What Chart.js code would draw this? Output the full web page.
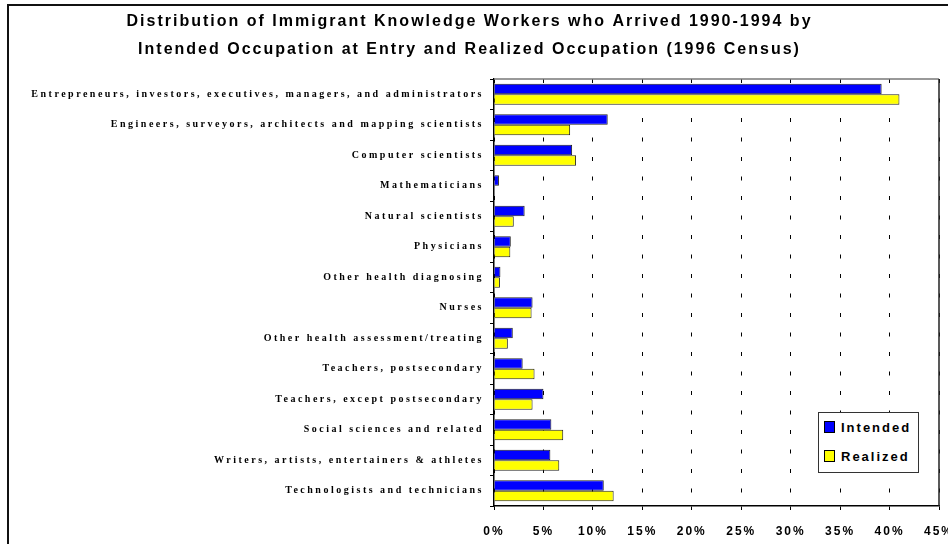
<!DOCTYPE html>
<html lang="en">
<head>
    <meta charset="UTF-8">
    <title>Immigrant Knowledge Workers</title>
    <script src="https://cdn.jsdelivr.net/npm/chart.js"></script>
    <style>
        body {
            margin: 0;
            width: 948px;
            height: 544px;
            overflow: hidden;
            background: white;
            position: relative;
            font-family: "Liberation Sans", Arial, sans-serif;
        }
        .frame {
            position: absolute;
            left: 7px;
            top: 4px;
            width: 1000px;
            height: 600px;
            border: 2px solid #111;
            pointer-events: none;
        }
        #legend {
            position: absolute;
            left: 818px;
            top: 412px;
            width: 99px;
            height: 59px;
            border: 1px solid #333;
            background: white;
        }
        .item {
            position: absolute;
            left: 5px;
            height: 16px;
            line-height: 16px;
            font-weight: bold;
            font-size: 13px;
            letter-spacing: 2px;
            color: #000;
        }
        .swatch {
            display: inline-block;
            width: 9px;
            height: 10px;
            border: 1px solid #000;
            margin-right: 6px;
            vertical-align: -1px;
        }
    </style>
</head>
<body>
    <canvas id="chart" width="948" height="544"></canvas>
    <div id="legend"></div>
    <div class="frame"></div>

    <script>
        const titleLines = [
            'Distribution of Immigrant Knowledge Workers who Arrived 1990-1994 by',
            'Intended Occupation at Entry and Realized Occupation (1996 Census)'
        ];

        const occupations = [
            'Entrepreneurs, investors, executives, managers, and administrators',
            'Engineers, surveyors, architects and mapping scientists',
            'Computer scientists',
            'Mathematicians',
            'Natural scientists',
            'Physicians',
            'Other health diagnosing',
            'Nurses',
            'Other health assessment/treating',
            'Teachers, postsecondary',
            'Teachers, except postsecondary',
            'Social sciences and related',
            'Writers, artists, entertainers & athletes',
            'Technologists and technicians'
        ];

        // percent of arrivals
        const intended = [39.2, 11.5, 7.9, 0.5, 3.1, 1.7, 0.65, 3.9, 1.9, 2.9, 5.0, 5.8, 5.7, 11.1];
        const realized = [41.0, 7.7, 8.3, 0, 2.0, 1.65, 0.6, 3.8, 1.4, 4.1, 3.9, 7.0, 6.6, 12.1];

        const seriesNames = ['Intended', 'Realized'];
        const seriesColors = ['#0000ff', '#ffff00'];

        const xMin = 0;
        const xMax = 45;
        const xStep = 5;

        // old-style spaced lettering; y labels are drawn after the bars (ticks z: 1)
        const spacingPlugin = {
            id: 'spacing',
            beforeLayout(chart) { chart.ctx.letterSpacing = '2px'; },
            beforeDraw(chart) { chart.ctx.letterSpacing = '2px'; },
            afterDatasetsDraw(chart) { chart.ctx.letterSpacing = '2.5px'; }
        };

        // top and right edges of the plot area
        const plotFrame = {
            id: 'plotFrame',
            beforeDatasetsDraw(chart) {
                const {ctx, chartArea: a} = chart;
                ctx.save();
                ctx.lineWidth = 1.5;
                ctx.strokeStyle = '#777';
                ctx.beginPath();
                ctx.moveTo(a.left, a.top);
                ctx.lineTo(a.right, a.top);
                ctx.stroke();
                ctx.strokeStyle = '#222';
                ctx.beginPath();
                ctx.moveTo(a.right, a.top);
                ctx.lineTo(a.right, a.bottom);
                ctx.stroke();
                ctx.restore();
            }
        };

        const ctx = document.getElementById('chart').getContext('2d');
        const chart = new Chart(ctx, {
            type: 'bar',
            data: {
                labels: occupations,
                datasets: [
                    {
                        label: seriesNames[0],
                        data: intended,
                        backgroundColor: seriesColors[0],
                        borderColor: '#222',
                        borderWidth: 1
                    },
                    {
                        label: seriesNames[1],
                        data: realized,
                        backgroundColor: seriesColors[1],
                        borderColor: '#222',
                        borderWidth: 1
                    }
                ]
            },
            options: {
                indexAxis: 'y',
                responsive: false,
                animation: false,
                devicePixelRatio: 1,
                barPercentage: 1,
                categoryPercentage: 0.69,
                layout: { padding: { left: 0, right: 9, top: 0, bottom: 0 } },
                plugins: {
                    legend: { display: false },
                    tooltip: { enabled: false },
                    title: {
                        display: true,
                        text: titleLines,
                        color: '#000',
                        font: { family: '"Liberation Sans", Arial, sans-serif', size: 16, weight: 'bold', lineHeight: 1.75 },
                        padding: { top: 8, bottom: 15 }
                    }
                },
                scales: {
                    x: {
                        type: 'linear',
                        min: xMin,
                        max: xMax,
                        ticks: {
                            stepSize: xStep,
                            color: '#000',
                            padding: 14,
                            maxRotation: 0,
                            autoSkip: false,
                            font: { family: '"Liberation Sans", Arial, sans-serif', size: 12, weight: 'bold' },
                            callback: v => v + '%'
                        },
                        grid: {
                            color: '#000',
                            lineWidth: 1,
                            tickLength: 4,
                            tickColor: '#000'
                        },
                        border: { display: true, color: '#000', width: 1.5, dash: [4, 15.5] },
                        afterFit(scale) {
                            scale.height = 38;
                            scale.paddingLeft = 0;
                            scale.paddingRight = 0;
                        }
                    },
                    y: {
                        ticks: {
                            color: '#000',
                            padding: 6,
                            autoSkip: false,
                            z: 1,
                            font: { family: '"Liberation Serif", "Times New Roman", serif', size: 10, weight: 'bold' }
                        },
                        grid: {
                            drawOnChartArea: false,
                            tickLength: 4,
                            color: '#000',
                            tickColor: '#000'
                        },
                        border: { display: true, color: '#000', width: 1.5 },
                        afterFit(scale) {
                            scale.width = 494;
                            scale.paddingTop = 0;
                            scale.paddingBottom = 0;
                        }
                    }
                }
            },
            plugins: [spacingPlugin, plotFrame]
        });

        // legend box drawn as html
        const legend = document.getElementById('legend');
        seriesNames.forEach((name, i) => {
            const row = document.createElement('div');
            row.className = 'item';
            row.style.top = (i === 0 ? 7 : 36) + 'px';
            row.innerHTML = '<span class="swatch" style="background:' + seriesColors[i] + '"></span>' + name;
            legend.appendChild(row);
        });
    </script>
</body>
</html>
